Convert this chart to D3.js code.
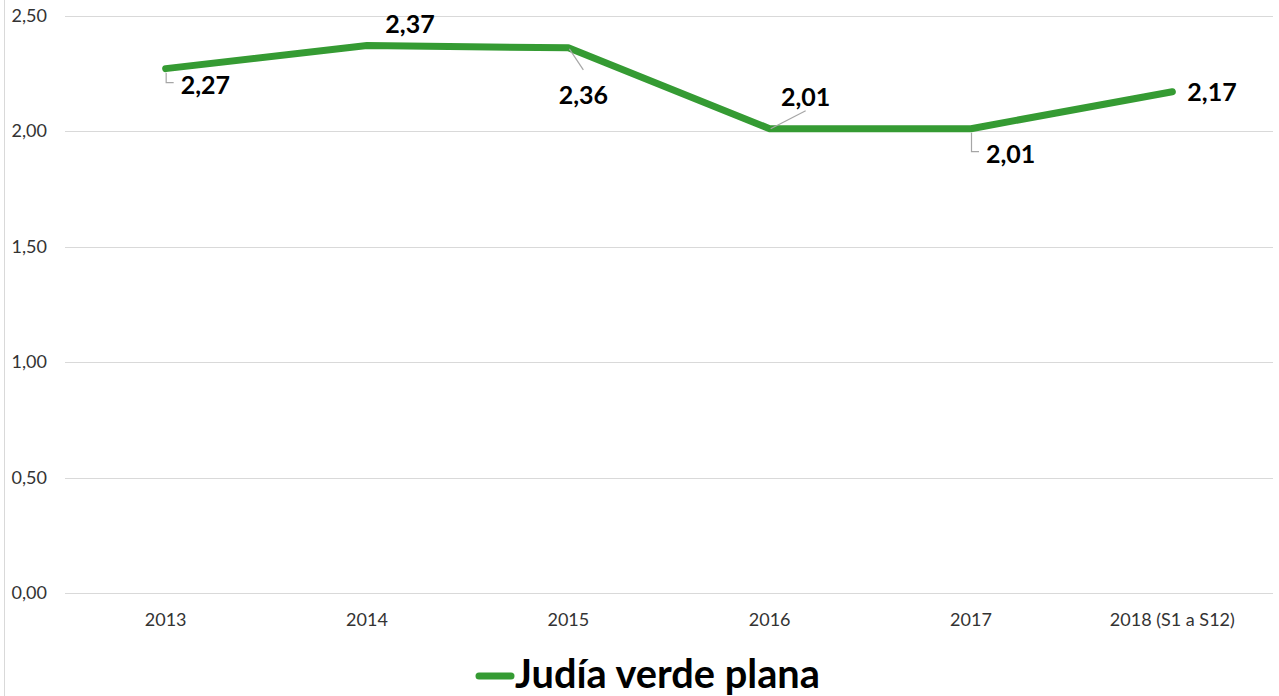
<!DOCTYPE html>
<html>
<head>
<meta charset="utf-8">
<script src="https://cdn.jsdelivr.net/npm/d3@7"></script>
<style>
  html, body { margin: 0; padding: 0; background: #fff; }
  svg { display: block; font-family: Lato, "Open Sans", sans-serif; }
</style>
</head>
<body>
<svg id="chart" width="1279" height="696"></svg>
<script>
var years = ["2013", "2014", "2015", "2016", "2017", "2018 (S1 a S12)"];
var prices = [2.27, 2.37, 2.36, 2.01, 2.01, 2.17];
var yTicks = [0, 0.5, 1, 1.5, 2, 2.5];
var seriesName = "Judía verde plana";

// label placement relative to the point: [dx, dy, leader]
var labelPos = [
  {dx: 15, dy: 17, anchor: "start", leader: "elbow"},
  {dx: 43, dy: -21, anchor: "middle", leader: null},
  {dx: 15, dy: 47, anchor: "middle", leader: "diag"},
  {dx: 36, dy: -31, anchor: "middle", leader: "diag"},
  {dx: 15, dy: 26, anchor: "start", leader: "elbow"},
  {dx: 15, dy: 1, anchor: "start", leader: null}
];

var green = "#359b33";
var svg = d3.select("#chart");

var x = d3.scalePoint()
    .domain(years)
    .range([65, 1273])
    .padding(0.5);

var y = d3.scaleLinear()
    .domain([0, 2.5])
    .range([593, 15.5]);

var fmt = function(v) { return d3.format(".2f")(v).replace(".", ","); };

// chart border at left
svg.append("line")
    .attr("x1", 4.5).attr("x2", 4.5)
    .attr("y1", 0).attr("y2", 696)
    .attr("stroke", "#d9d9d9");

// gridlines
svg.append("g")
  .selectAll("line")
  .data(yTicks)
  .enter().append("line")
    .attr("x1", 65).attr("x2", 1273)
    .attr("y1", function(d) { return Math.round(y(d)) + 0.5; })
    .attr("y2", function(d) { return Math.round(y(d)) + 0.5; })
    .attr("stroke", "#d9d9d9")
    .attr("stroke-width", 1);

// y tick labels
svg.append("g")
  .selectAll("text")
  .data(yTicks)
  .enter().append("text")
    .attr("x", 47)
    .attr("y", function(d) { return y(d); })
    .attr("dy", "0.35em")
    .attr("text-anchor", "end")
    .attr("font-size", 18)
    .attr("fill", "#333")
    .text(fmt);

// x tick labels
svg.append("g")
  .selectAll("text")
  .data(years)
  .enter().append("text")
    .attr("x", function(d) { return x(d); })
    .attr("y", 626)
    .attr("text-anchor", "middle")
    .attr("font-size", 18)
    .attr("fill", "#333")
    .text(function(d) { return d; });

var pts = years.map(function(d, i) { return {year: d, value: prices[i], pos: labelPos[i]}; });

// series line
svg.append("path")
    .datum(pts)
    .attr("fill", "none")
    .attr("stroke", green)
    .attr("stroke-width", 7)
    .attr("stroke-linecap", "round")
    .attr("stroke-linejoin", "round")
    .attr("d", d3.line()
      .x(function(d) { return x(d.year); })
      .y(function(d) { return y(d.value); }));

// leader lines
var leaders = svg.append("g")
    .attr("fill", "none")
    .attr("stroke", "#a6a6a6")
    .attr("stroke-width", 1.2);

pts.forEach(function(d) {
  var px = x(d.year), py = y(d.value), p = d.pos;
  if (p.leader === "elbow") {
    leaders.append("path")
        .attr("d", "M" + (px + 0.5) + "," + (py + 4) + "V" + (py + p.dy - 3) + "H" + (px + 8));
  } else if (p.leader === "diag") {
    var ex = px + p.dx, ey = p.dy > 0 ? py + p.dy - 25 : py + p.dy + 13;
    leaders.append("line")
        .attr("x1", px + 1).attr("y1", py + (p.dy > 0 ? 1 : 0))
        .attr("x2", ex).attr("y2", ey);
  }
});

// data labels
svg.append("g")
  .selectAll("text")
  .data(pts)
  .enter().append("text")
    .attr("x", function(d) { return x(d.year) + d.pos.dx; })
    .attr("y", function(d) { return y(d.value) + d.pos.dy; })
    .attr("dy", "0.35em")
    .attr("text-anchor", function(d) { return d.pos.anchor; })
    .attr("font-size", 25)
    .attr("font-weight", "bold")
    .attr("fill", "#000")
    .text(function(d) { return fmt(d.value); });

// legend
var legend = svg.append("g");
legend.append("line")
    .attr("x1", 479).attr("x2", 511)
    .attr("y1", 676).attr("y2", 676)
    .attr("stroke", green)
    .attr("stroke-width", 7)
    .attr("stroke-linecap", "round");

var legendText = legend.append("text")
    .attr("x", 515)
    .attr("y", 688)
    .attr("font-size", 35)
    .attr("font-weight", "bold")
    .attr("fill", "#000")
    .text(seriesName);

// fit the legend text to the width in the original
var w = legendText.node().getComputedTextLength();
legendText.attr("font-size", 35 * 305 / w);
</script>
</body>
</html>
